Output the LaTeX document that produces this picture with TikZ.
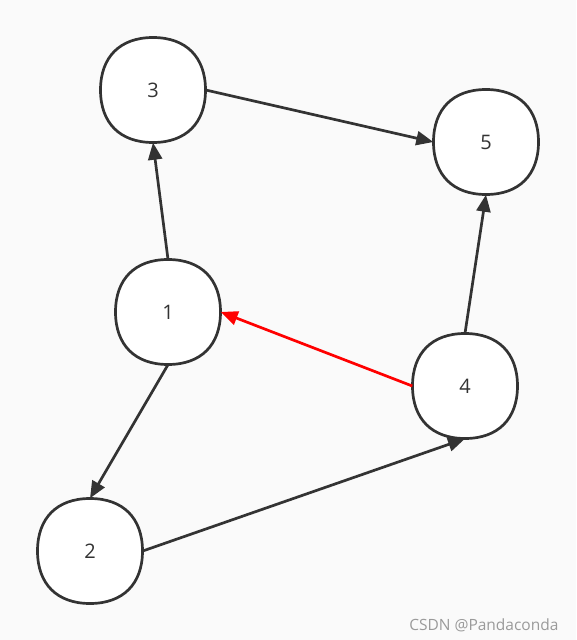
\documentclass[tikz,border=0pt]{standalone}
\usepackage{fontspec}
\setmainfont{Open Sans}
\usepackage{xcolor}
\usepackage{tikz}
\usetikzlibrary{arrows.meta, positioning, backgrounds}
\definecolor{edgegray}{HTML}{333333}
\definecolor{bggray}{HTML}{FAFAFA}
\definecolor{markgray}{HTML}{9A9A9A}
\tikzset{
  vtx/.style={circle,minimum size=105pt,inner sep=0pt,font=\fontsize{20}{24}\selectfont,text=edgegray},
  pics/ring/.style={code={
    \draw[draw=edgegray,fill=white,line width=2.7pt]
      (0,-52.5) .. controls (33,-52.5) and (52.5,-33) .. (52.5,0)
      .. controls (52.5,33) and (33,52.5) .. (0,52.5)
      .. controls (-33,52.5) and (-52.5,33) .. (-52.5,0)
      .. controls (-52.5,-33) and (-33,-52.5) .. (0,-52.5) -- cycle;}},
  arc/.style={draw=edgegray,line width=2.7pt,-{Triangle[length=17pt,width=14pt]}},
  hot/.style={arc,draw=red,-{Triangle[length=17pt,width=14pt,fill=red]}}
}

\begin{document}
\begin{tikzpicture}[x=1pt,y=-1pt]
\useasboundingbox (0,0) rectangle (576,640);
% vertices
\node[vtx] (v3) at (153,90) {3};
\node[vtx] (v5) at (486,142) {5};
\node[vtx] (v1) at (168,312) {1};
\node[vtx] (v4) at (465,386) {4};
\node[vtx] (v2) at (90,551) {2};
\begin{scope}[on background layer]
\fill[bggray] (0,0) rectangle (576,640);
\foreach \v in {v1,v2,v3,v4,v5}
  \pic at (\v) {ring};
\end{scope}
% edges
\draw[arc] (v1.north) -- (v3.south);
\draw[arc] (v3.east) -- (v5.west);
\draw[arc] (v4.north) -- (v5.south);
\draw[hot] (v4.west) -- (v1.east);
\draw[arc] (v1.south) -- (v2.north);
\draw[arc] (v2.east) -- (v4.south);
\node[anchor=base east,text=markgray,font=\fontsize{15.5}{18}\selectfont] (mark) at (562,630) {CSDN @Pandaconda};
\end{tikzpicture}
\end{document}
